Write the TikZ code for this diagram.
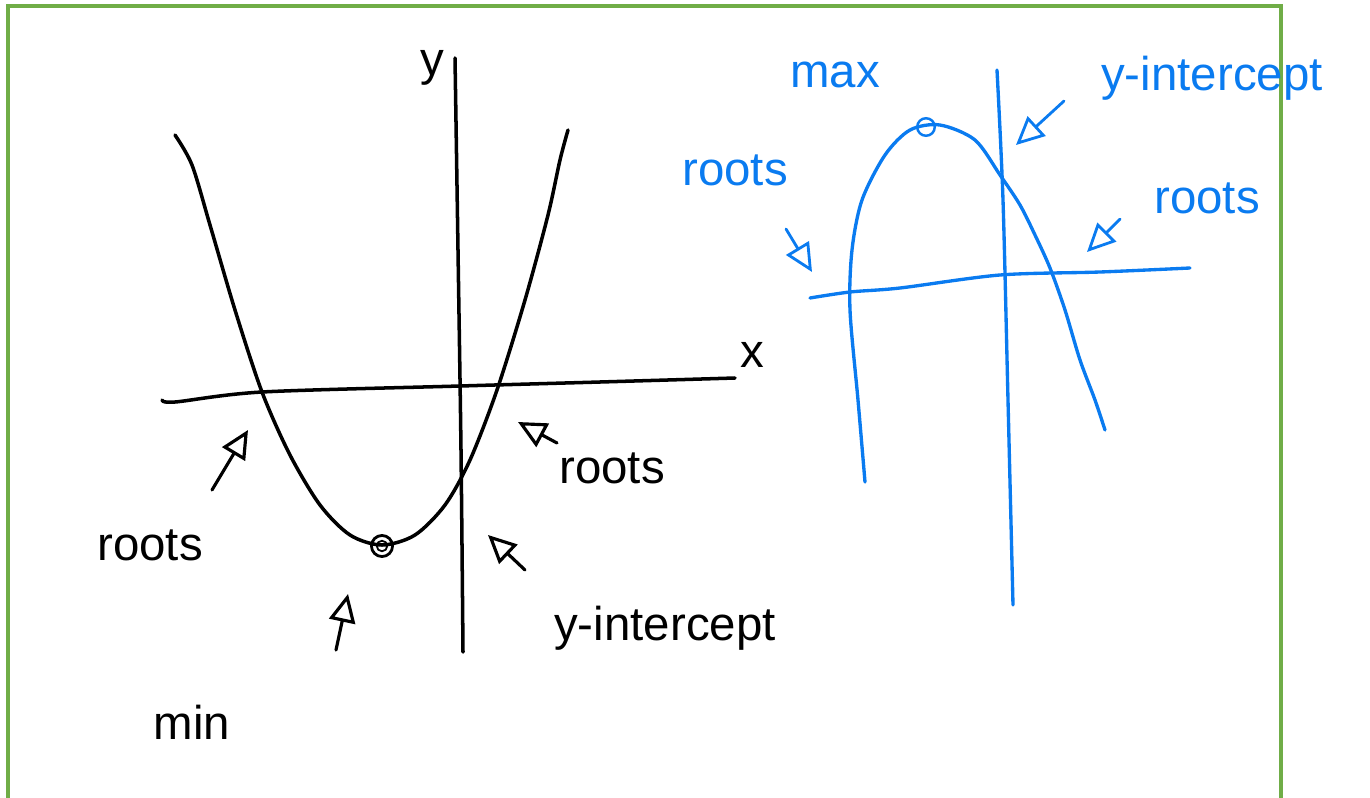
\documentclass[tikz,border=0pt]{standalone}
\usepackage{fontspec}
\setmainfont{Liberation Sans}
\usetikzlibrary{arrows.meta}
\definecolor{framegreen}{HTML}{70AD47}
\definecolor{penblue}{HTML}{0A7BF0}

\begin{document}
\begin{tikzpicture}[x=0.02cm, y=-0.02cm,
    pen/.style={line width=2pt, line cap=round, line join=round},
    bluepen/.style={pen, penblue, line width=1.9pt},
    arr/.style={-{Triangle[open, length=16pt, width=15pt]}, line width=1.8pt, line cap=round, line join=round},
    lbl/.style={font=\fontsize{27}{30}\selectfont, inner sep=1pt},
    dot/.style={circle, draw, line width=1.6pt, minimum size=12pt, inner sep=0pt}
]
\useasboundingbox (0,0) rectangle (1370,798);
\draw[framegreen, line width=1.8pt] (8,800) |- (1281,6) -- (1281,800);

% black sketch: parabola opening upwards
\draw[pen] plot[smooth] coordinates {(455,58) (458,250) (461,450) (463,652)};
\draw[pen] plot[smooth] coordinates {(162,400) (175,402) (262,392) (460,386) (600,382) (735,378)};
\draw[pen] plot[smooth] coordinates {(175,135) (192,165) (210,225) (235,310) (262,392) (290,455)
    (320,505) (350,535) (382,545) (415,535) (445,505) (470,460) (497,390) (525,300) (548,215) (560,160) (568,130)};
\node[dot] (minpt) at (382,546) {};
\node[dot, minimum size=6pt, line width=1pt] at (minpt) {};

\node[lbl] (ylbl) at (432,68) {y};
\node[lbl] (xlbl) at (752,355) {x};
\node[lbl] (rootsL) at (150,545) {roots};
\node[lbl] (rootsR) at (612,468) {roots};
\node[lbl] (yintL) at (665,628) {y-intercept};
\node[lbl] (minlbl) at (192,722) {min};

\coordinate (tailA) at (212,490);
\coordinate (headA) at (248,430);
\coordinate (tailB) at (557,443);
\coordinate (headB) at (518,422);
\coordinate (tailC) at (525,570);
\coordinate (headC) at (488,535);
\coordinate (tailD) at (336,650);
\coordinate (headD) at (348,594);
\draw[arr] (tailA) -- (headA);
\draw[arr] (tailB) -- (headB);
\draw[arr] (tailC) -- (headC);
\draw[arr] (tailD) -- (headD);

% blue sketch: parabola opening downwards
\begin{scope}[penblue]
\draw[bluepen] plot[smooth] coordinates {(997,70) (1003,200) (1008,400) (1013,605)};
\draw[bluepen] plot[smooth] coordinates {(810,298) (850,292) (900,288) (1000,275) (1100,272) (1190,268)};
\draw[bluepen] plot[smooth] coordinates {(865,482) (858,400) (850,310) (852,250) (862,200) (885,155)
    (910,130) (940,125) (975,140) (1000,175) (1020,205) (1035,235) (1050,268) (1065,310) (1080,360) (1095,400) (1105,430)};
\node[dot, line width=1.4pt, minimum size=10pt] (maxpt) at (926,127) {};

\node[lbl] (maxlbl) at (835,75) {max};
\node[lbl] (rootsBL) at (735,170) {roots};
\node[lbl] (rootsBR) at (1207,198) {roots};
\node[lbl] (yintB) at (1212,78) {y-intercept};

\coordinate (tailE) at (786,229);
\coordinate (headE) at (812,272);
\coordinate (tailF) at (1064,101);
\coordinate (headF) at (1016,145);
\coordinate (tailG) at (1120,219);
\coordinate (headG) at (1087,252);
\draw[arr, line width=1.6pt] (tailE) -- (headE);
\draw[arr, line width=1.6pt] (tailF) -- (headF);
\draw[arr, line width=1.6pt] (tailG) -- (headG);
\end{scope}
\end{tikzpicture}
\end{document}
